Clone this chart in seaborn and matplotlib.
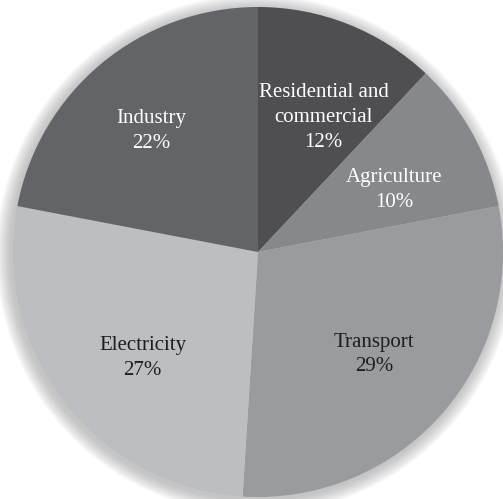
import matplotlib
matplotlib.use("Agg")
import matplotlib.pyplot as plt
import seaborn as sns
import numpy as np
from matplotlib.patches import Circle

# Emission shares by sector
sectors = ["Residential and\ncommercial", "Agriculture", "Transport", "Electricity", "Industry"]
shares = [12, 10, 29, 27, 22]
colors = ["#4f4f52", "#87888c", "#9a9b9f", "#bdbec2", "#636468"]
text_colors = ["white", "white", "#1e1e1e", "#1e1e1e", "white"]
# radial distance and angular nudge (degrees) for each label
label_radius = [0.61, 0.61, 0.633, 0.64, 0.66]
label_nudge = [-4.4, -4.3, 0, 4.9, 1.9]

sns.set_theme(style="white")
plt.rcParams["font.family"] = ["Liberation Serif", "DejaVu Serif"]

fig = plt.figure(figsize=(5.03, 4.99), dpi=100)
ax = fig.add_axes([0, 0, 1, 1])

# soft drop shadow around the pie
n_rings = 20
for i in range(n_rings):
    r = 1.0 + 0.003 * (n_rings - i)
    ax.add_patch(Circle((-0.008, -0.01), r, color="#9a9a9a", alpha=0.035, lw=0, zorder=0))

wedges, _ = ax.pie(shares, colors=colors, startangle=90, counterclock=False,
                   radius=1.0, wedgeprops=dict(linewidth=0))
for w in wedges:
    w.set_zorder(2)

for w, name, val, tc, lr, nd in zip(wedges, sectors, shares, text_colors, label_radius, label_nudge):
    mid = np.deg2rad((w.theta1 + w.theta2) / 2 + nd)
    ax.text(lr * np.cos(mid), lr * np.sin(mid), f"{name}\n{val}%",
            ha="center", va="center", color=tc, fontsize=15, linespacing=1.42, zorder=3)

ax.set_xlim(-258 / 245, 245 / 245)
ax.set_ylim(-247 / 245, 252 / 245)
ax.set_aspect("auto")
ax.axis("off")
fig.savefig("out.png", dpi=100, facecolor="white")
